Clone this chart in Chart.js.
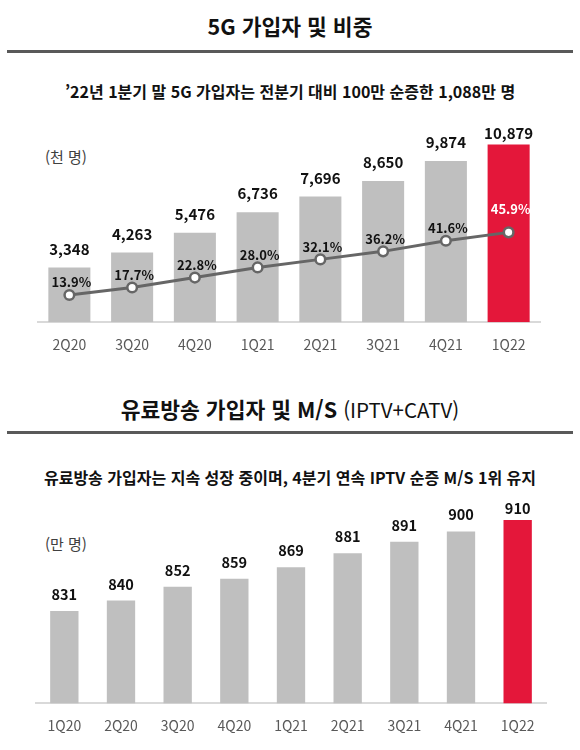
<!DOCTYPE html>
<html lang="ko">
<head>
<meta charset="utf-8">
<script src="https://cdn.jsdelivr.net/npm/chart.js@4.4.1/dist/chart.umd.min.js"></script>
<style>
  html, body { margin: 0; padding: 0; background: #fff; }
  body {
    width: 580px; height: 750px; position: relative; overflow: hidden;
    font-family: 'Noto Sans CJK KR', 'Noto Sans', sans-serif; color: #111;
  }
  .title { position: absolute; left: 0; width: 580px; text-align: center;
           font-size: 21.5px; font-weight: 700; line-height: 1; color: #111; }
  .title .thin { font-weight: 400; font-size: 20.5px; }
  .rule  { position: absolute; left: 7px; width: 566px; height: 3px; background: #595959; }
  .sub   { position: absolute; left: 0; width: 580px; text-align: center;
           font-size: 16px; font-weight: 700; line-height: 1; color: #111; }
  .unit  { position: absolute; left: 45px; font-size: 15px; line-height: 1; color: #404040; }
  .box   { position: absolute; left: 0; width: 580px; }
</style>
</head>
<body>

<div class="title" style="top:15px">5G 가입자 및 비중</div>
<div class="rule" style="top:50px"></div>
<div class="sub" style="top:83px">’22년 1분기 말 5G 가입자는 전분기 대비 100만 순증한 1,088만 명</div>
<div class="unit" style="top:148.5px">(천 명)</div>
<div class="box" style="top:100px;height:267px"><canvas id="chart5g"></canvas></div>

<div class="title" style="top:398px">유료방송 가입자 및 M/S <span class="thin">(IPTV+CATV)</span></div>
<div class="rule" style="top:431px"></div>
<div class="sub" style="top:469px">유료방송 가입자는 지속 성장 중이며, 4분기 연속 IPTV 순증 M/S 1위 유지</div>
<div class="unit" style="top:535.5px">(만 명)</div>
<div class="box" style="top:480px;height:268px"><canvas id="chartPay"></canvas></div>

<script>
/* ── Data ─────────────────────────────────────────────────────────── */
const quarters5g  = ['2Q20','3Q20','4Q20','1Q21','2Q21','3Q21','4Q21','1Q22'];
const subs5g      = [3348, 4263, 5476, 6736, 7696, 8650, 9874, 10879];   // 천 명
const share5g     = [13.9, 17.7, 22.8, 28.0, 32.1, 36.2, 41.6, 45.9];     // %

const quartersPay = ['1Q20','2Q20','3Q20','4Q20','1Q21','2Q21','3Q21','4Q21','1Q22'];
const subsPay     = [831, 840, 852, 859, 869, 881, 891, 900, 910];        // 만 명

/* ── Look ─────────────────────────────────────────────────────────── */
const FONT  = "'Noto Sans CJK KR', 'Noto Sans', sans-serif";
const GRAY  = '#bfbfbf';
const RED   = '#e4173a';
const LINE  = '#666666';

function barColors(n) {
  const c = [];
  for (let i = 0; i < n; i++) c.push(i === n - 1 ? RED : GRAY);
  return c;
}

// labels above bars / points, drawn after datasets
const valueLabels = {
  id: 'valueLabels',
  afterDatasetsDraw(chart, args, opts) {
    const ctx = chart.ctx;
    ctx.save();
    ctx.textAlign = 'center';
    ctx.textBaseline = 'alphabetic';

    const bars = chart.getDatasetMeta(0);
    const last = bars.data.length - 1;
    ctx.font = 'bold ' + opts.barFont + 'px ' + FONT;
    ctx.fillStyle = '#111';
    bars.data.forEach(function(el, i) {
      const v = chart.data.datasets[0].data[i];
      const lift = i === last ? opts.lastLift : opts.lift;
      ctx.fillText(v.toLocaleString('en-US'), el.x, el.y - lift);
    });

    if (chart.data.datasets.length > 1) {
      const pts = chart.getDatasetMeta(1);
      ctx.font = 'bold 13px ' + FONT;
      pts.data.forEach(function(el, i) {
        const v = chart.data.datasets[1].data[i];
        const isLast = i === pts.data.length - 1;
        ctx.fillStyle = isLast ? '#ffffff' : '#111';
        ctx.fillText(v.toFixed(1) + '%', el.x + 2, el.y - (isLast ? 18 : 7.5));
      });
    }
    ctx.restore();
  }
};

function xAxis() {
  return {
    grid:   { display: false, drawTicks: false },
    border: { display: true, color: '#d9d9d9', width: 2 },
    ticks:  { color: '#595959', padding: 14, font: { size: 14, family: FONT } }
  };
}

// ── 5G subscribers & share ───────────────────────────────────────────
new Chart(document.getElementById('chart5g'), {
  data: {
    labels: quarters5g,
    datasets: [{
      type: 'bar',
      data: subs5g,
      backgroundColor: barColors(subs5g.length),
      barPercentage: 0.67,
      categoryPercentage: 1,
      yAxisID: 'y',
      order: 1
    }, {
      type: 'line',
      data: share5g,
      borderColor: LINE,
      borderWidth: 3,
      pointRadius: 4.8,
      pointBorderWidth: 2.5,
      pointBackgroundColor: '#ffffff',
      pointBorderColor: LINE,
      tension: 0,
      yAxisID: 'y1',
      order: 0
    }]
  },
  options: {
    responsive: true,
    maintainAspectRatio: false,
    animation: false,
    events: [],
    layout: { padding: { top: 40, left: 38, right: 40, bottom: 0 } },
    plugins: {
      legend: { display: false },
      tooltip: { enabled: false },
      valueLabels: { barFont: 15, lift: 13, lastLift: 5.2 }
    },
    scales: {
      x:  xAxis(),
      y:  { display: false, min: 0, max: 11160 },
      y1: { display: false, min: 0, max: 93.1 }
    }
  },
  plugins: [valueLabels]
});

// ── Pay TV subscribers ───────────────────────────────────────────────
new Chart(document.getElementById('chartPay'), {
  type: 'bar',
  data: {
    labels: quartersPay,
    datasets: [{
      data: subsPay,
      backgroundColor: barColors(subsPay.length),
      barPercentage: 0.5,
      categoryPercentage: 1
    }]
  },
  options: {
    responsive: true,
    maintainAspectRatio: false,
    animation: false,
    events: [],
    layout: { padding: { top: 30, left: 36, right: 34, bottom: 0 } },
    plugins: {
      legend: { display: false },
      tooltip: { enabled: false },
      valueLabels: { barFont: 14.5, lift: 11, lastLift: 5.7 }
    },
    scales: {
      x: xAxis(),
      y: { display: false, min: 751, max: 918.6 }
    }
  },
  plugins: [valueLabels]
});
</script>
</body>
</html>
